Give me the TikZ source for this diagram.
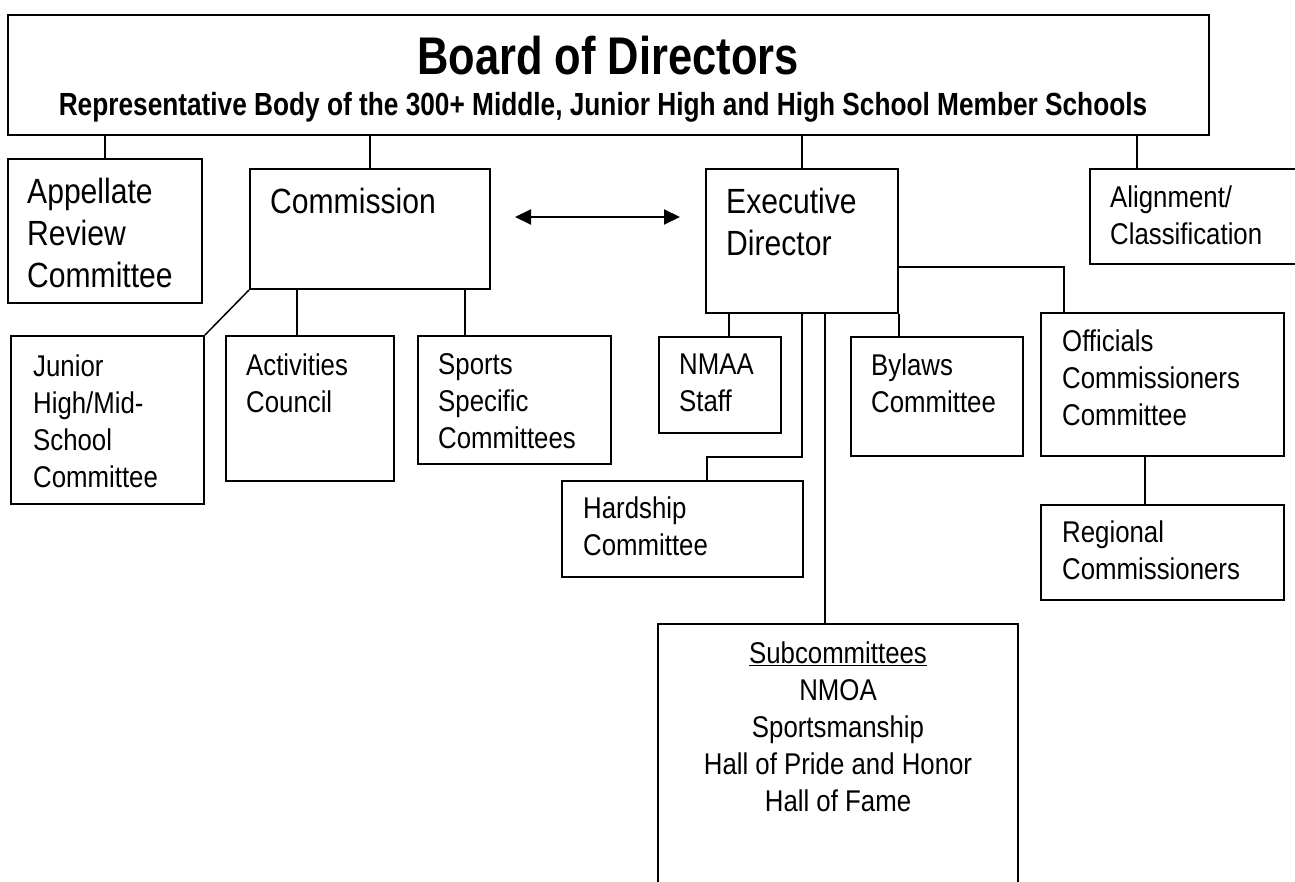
\documentclass[tikz,border=0pt]{standalone}
\usepackage{fontspec}
\usepackage{tikz}
\usetikzlibrary{positioning}
\usetikzlibrary{arrows.meta}
\newfontfamily\bodyfont[FakeStretch=0.86]{Liberation Sans}
\newfontfamily\headfont[FakeStretch=0.82]{Liberation Sans}
\tikzset{
	office/.style={draw, line width=2pt, anchor=north west, inner sep=0pt},
	desc/.style={anchor=north west, inner sep=0pt, align=left, font=\bodyfont\fontsize{30pt}{37pt}\selectfont},
	bigdesc/.style={desc, font=\bodyfont\fontsize{35pt}{42pt}\selectfont},
	% heading lines of the board box
	head/.style={anchor=base, inner sep=0pt, font=\headfont\bfseries\fontsize{53pt}{60pt}\selectfont},
	subhead/.style={anchor=base, inner sep=0pt, font=\headfont\bfseries\fontsize{32pt}{38pt}\selectfont},
}

\begin{document}
\begin{tikzpicture}[x=1pt, y=-1pt]
	\path[use as bounding box, fill=white] (0,0) rectangle (1295,882);
	
	\node (board) [office, minimum width=1201pt, minimum height=120pt] at (7,14) {};
	\node (title) [head] at (608,75) {Board of Directors};
	\node (subtitle) [subhead] at (603,116) {Representative Body of the 300+ Middle, Junior High and High School Member Schools};
	
	\node (app) [office, minimum width=194pt, minimum height=144pt] at (7,158) {};
	\node (appt) [bigdesc] at ([shift={(20,20)}]app.north west) {Appellate\\Review\\Committee};
	
	\node (comm) [office, minimum width=240pt, minimum height=120pt] at (249,168) {};
	\node (commt) [bigdesc] at ([shift={(21,20)}]comm.north west) {Commission};
	
	\node (exec) [office, minimum width=192pt, minimum height=144pt] at (705,168) {};
	\node (exect) [bigdesc] at ([shift={(21,20)}]exec.north west) {Executive\\Director};
	
	\node (align) [office, minimum width=230pt, minimum height=95pt] at (1089,168) {};
	\node (alignt) [desc] at ([shift={(21,17.5)}]align.north west) {Alignment/\\Classification};
	
	\node (jr) [office, minimum width=193pt, minimum height=168pt] at (10,335) {};
	\node (jrt) [desc] at ([shift={(23,19.5)}]jr.north west) {Junior\\High/Mid-\\School\\Committee};
	
	\node (act) [office, minimum width=168pt, minimum height=145pt] at (225,335) {};
	\node (actt) [desc] at ([shift={(21,18.5)}]act.north west) {Activities\\Council};
	
	\node (sport) [office, minimum width=193pt, minimum height=128pt] at (417,335) {};
	\node (sportt) [desc] at ([shift={(21,18.5)}]sport.north west) {Sports\\Specific\\Committees};
	
	\node (nmaa) [office, minimum width=122pt, minimum height=96pt] at (658,336) {};
	\node (nmaat) [desc] at ([shift={(21,17.5)}]nmaa.north west) {NMAA\\Staff};
	
	\node (bylaws) [office, minimum width=172pt, minimum height=119pt] at (850,336) {};
	\node (bylawst) [desc] at ([shift={(21,17.5)}]bylaws.north west) {Bylaws\\Committee};
	
	\node (off) [office, minimum width=243pt, minimum height=143pt] at (1040,312) {};
	\node (offt) [desc] at ([shift={(22,17.5)}]off.north west) {Officials\\Commissioners\\Committee};
	
	\node (reg) [office, minimum width=243pt, minimum height=95pt] at (1040,504) {};
	\node (regt) [desc] at ([shift={(22,16.5)}]reg.north west) {Regional\\Commissioners};
	
	\node (hard) [office, minimum width=241pt, minimum height=96pt] at (561,480) {};
	\node (hardt) [desc] at ([shift={(22,16.5)}]hard.north west) {Hardship\\Committee};
	
	\node (sub) [office, minimum width=360pt, minimum height=300pt] at (657,623) {};
	\node (subt) [desc, anchor=north, align=center] at ([shift={(0,18.5)}]sub.north) {\underline{Subcommittees}\\NMOA\\Sportsmanship\\Hall of Pride and Honor\\Hall of Fame};
	
	%\coordinate (actin) at (act.north);
	\coordinate (alignin) at ([xshift=48pt]align.north west);
	\coordinate (actin) at ([xshift=72pt]act.north west);
	\coordinate (sportin) at ([xshift=48pt]sport.north west);
	\coordinate (nmaain) at ([xshift=71pt]nmaa.north west);
	\coordinate (hardin) at ([xshift=146pt]hard.north west);
	\coordinate (subin) at ([xshift=168pt]sub.north west);
	\coordinate (offin) at ([xshift=24pt]off.north west);
	\coordinate (regin) at ([xshift=105pt]reg.north west);
	\coordinate (exectap) at ([yshift=47pt]exec.south east);
	\coordinate (linkl) at ([shift={(24,-12)}]comm.east);
	\coordinate (linkr) at ([shift={(-25,-24)}]exec.west);
	
	\begin{scope}[line width=1.5pt, black]
		\draw (app.north) -- (app.north |- board.south);
		\draw (comm.north) -- (comm.north |- board.south);
		\draw (exec.north) -- (exec.north |- board.south);
		\draw (alignin) -- (alignin |- board.south);
		
		\draw (comm.south west) -- (jr.north east);
		\draw (actin) -- (actin |- comm.south);
		\draw (sportin) -- (sportin |- comm.south);
		
		\draw (nmaain) -- (nmaain |- exec.south);
		\draw (exec.south) -- ++(0,143) -| (hardin);
		\draw (subin) -- (subin |- exec.south);
		\draw (exec.south east) -- (bylaws.north -| exec.south east);
		\draw (exectap) -| (offin);
		\draw (regin) -- (regin |- off.south);
		
		\draw[line width=2pt, {Triangle[length=16pt,width=15pt]}-{Triangle[length=16pt,width=15pt]}] (linkl) -- (linkr);
	\end{scope}
	
\end{tikzpicture}
\end{document}
